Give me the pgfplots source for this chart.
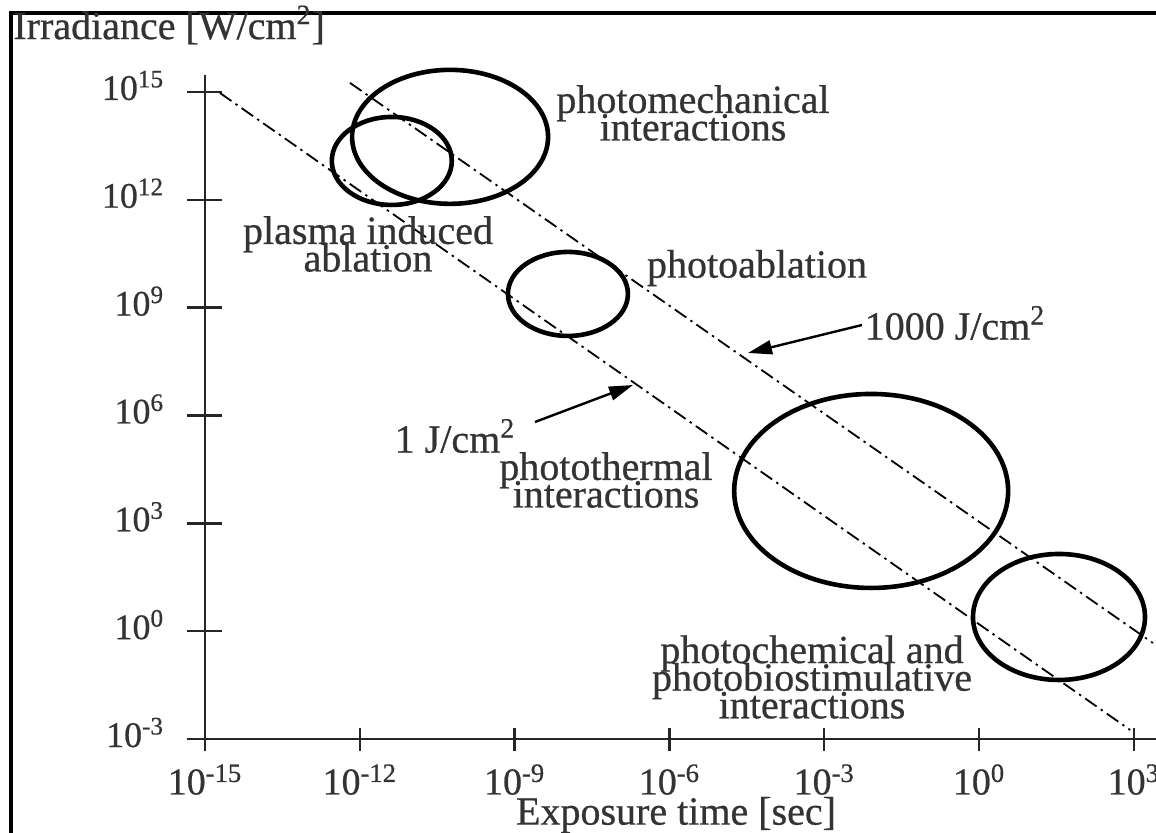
\documentclass[border=0pt]{standalone}
\usepackage{fontspec}
\setmainfont{Liberation Serif}
\newfontfamily\lblfont{Liberation Serif}[FakeBold=0.6]
\usepackage{pgfplots}
\pgfplotsset{compat=1.18}
\usetikzlibrary{arrows.meta}

% one ellipse mark per interaction region (half-axes in pt)
\pgfdeclareplotmark{ellMech}{\pgfpathellipse{\pgfpointorigin}{\pgfqpoint{49pt}{0pt}}{\pgfqpoint{0pt}{33.5pt}}\pgfusepathqstroke}
\pgfdeclareplotmark{ellPlasma}{\pgfpathellipse{\pgfpointorigin}{\pgfqpoint{30pt}{0pt}}{\pgfqpoint{0pt}{22pt}}\pgfusepathqstroke}
\pgfdeclareplotmark{ellAbl}{\pgfpathellipse{\pgfpointorigin}{\pgfqpoint{30pt}{0pt}}{\pgfqpoint{0pt}{21pt}}\pgfusepathqstroke}
\pgfdeclareplotmark{ellTherm}{\pgfpathellipse{\pgfpointorigin}{\pgfqpoint{68.5pt}{0pt}}{\pgfqpoint{0pt}{48.5pt}}\pgfusepathqstroke}
\pgfdeclareplotmark{ellChem}{\pgfpathellipse{\pgfpointorigin}{\pgfqpoint{43pt}{0pt}}{\pgfqpoint{0pt}{31.5pt}}\pgfusepathqstroke}

\newcommand{\lbl}{\lblfont\fontsize{20}{13.8}\selectfont\lineskiplimit=-50pt\color{black!80}}

\begin{document}
\begin{tikzpicture}
\useasboundingbox (0,0) rectangle (578pt,416pt);
\begin{axis}[
  at={(102.5pt,46.5pt)}, anchor=south west,
  scale only axis, width=475.5pt, height=332pt,
  xmode=log, ymode=log,
  xmin=1e-15, xmax=2691, ymin=1e-3, ymax=2.95e15,
  axis lines=left,
  axis line style={-, line width=1.3pt, black!85},
  x axis line style={shorten <=-8.5pt},
  y axis line style={shorten <=-4.5pt},
  tick align=center,
  major tick length=17.5pt,
  xtick style={/pgfplots/major tick length=11.5pt},
  tick style={line width=1.2pt, black!85},
  xminorticks=false, yminorticks=false,
  xtick={1e-15,1e-12,1e-9,1e-6,1e-3,1,1e3},
  xticklabels={10\textsuperscript{-15},10\textsuperscript{-12},10\textsuperscript{-9},10\textsuperscript{-6},10\textsuperscript{-3},10\textsuperscript{0},10\textsuperscript{3}},
  ytick={1e-3,1,1e3,1e6,1e9,1e12,1e15},
  yticklabels={10\textsuperscript{-3},10\textsuperscript{0},10\textsuperscript{3},10\textsuperscript{6},10\textsuperscript{9},10\textsuperscript{12},10\textsuperscript{15}},
  xticklabel style={font=\lblfont\fontsize{19}{19}\selectfont\color{black!80}, anchor=base, inner sep=0pt, yshift=-19pt},
  yticklabel style={font=\lblfont\fontsize{18}{18}\selectfont\color{black!80}, anchor=base east, inner sep=0pt, xshift=-11.5pt, yshift=-4pt},
  clip=false,
]
% 1 J/cm^2 and 1000 J/cm^2 lines
\addplot[black, line width=0.9pt, dash pattern=on 7pt off 2.5pt on 1.2pt off 2.5pt]
  coordinates {(1.95e-15,9.33e14) (851,1.78e-3)};
\addplot[black, line width=0.9pt, dash pattern=on 7pt off 2.5pt on 1.2pt off 2.5pt]
  coordinates {(6.46e-13,1.78e15) (2344,0.468)};
% interaction regions (centre of each ellipse)
\addplot[only marks, mark=ellMech, mark options={line width=2.3pt, black}] coordinates {(5.62e-11,5.62e13)};
\addplot[only marks, mark=ellPlasma, mark options={line width=2.3pt, black}] coordinates {(4.17e-12,1.20e13)};
\addplot[only marks, mark=ellAbl, mark options={line width=2.3pt, black}] coordinates {(1.08e-8,2.40e9)};
\addplot[only marks, mark=ellTherm, mark options={line width=2.3pt, black}] coordinates {(8.13e-3,7943)};
\addplot[only marks, mark=ellChem, mark options={line width=2.3pt, black}] coordinates {(35.5,2.48)};
\end{axis}

\begin{scope}[shift={(0pt,416pt)}, x=0.5pt, y=-0.5pt]
\draw[line width=1.6pt, black] (11,850) -- (11,13) -- (1180,13);
\node[font=\lbl, anchor=west, inner sep=0pt] at (13,25) {Irradiance [W/cm\textsuperscript{2}]};
\node[font=\lbl, inner sep=0pt] at (676,815) {Exposure time [sec]};
\node[font=\lbl, align=center, inner sep=0pt] at (693,113) {photomechanical\\interactions};
\node[font=\lbl, align=center, inner sep=0pt] at (368,244) {plasma induced\\ablation};
\node[font=\lbl, inner sep=0pt] at (757,268) {photoablation};
\node[font=\lbl, inner sep=0pt] at (955,323) {1000 J/cm\textsuperscript{2}};
\node[font=\lbl, inner sep=0pt] at (455,436) {1 J/cm\textsuperscript{2}};
\node[font=\lbl, align=center, inner sep=0pt] at (606,480) {photothermal\\interactions};
\node[font=\lbl, align=center, inner sep=0pt] at (812,677) {photochemical and\\photobiostimulative\\interactions};
\draw[line width=1.2pt, black, -{Triangle[length=12pt,width=7pt]}] (862,325) -- (748,353);
\draw[line width=1.2pt, black, -{Triangle[length=12pt,width=7pt]}] (535,422) -- (633,385);
\end{scope}
\end{tikzpicture}
\end{document}
